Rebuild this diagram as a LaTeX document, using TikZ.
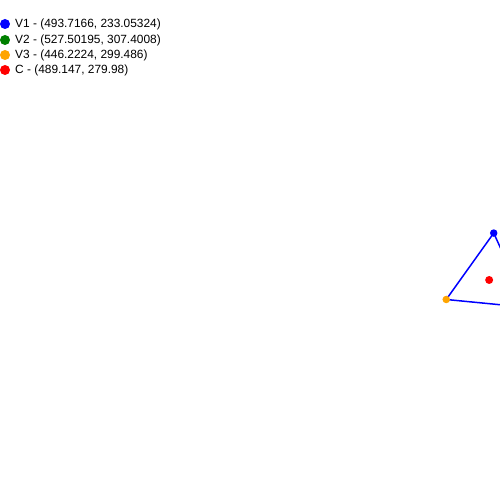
\documentclass[tikz,border=0pt]{standalone}
\usepackage{fontspec}
\setmainfont{Liberation Sans}
\definecolor{vone}{RGB}{0,0,255}
\definecolor{vtwo}{RGB}{0,128,0}
\definecolor{vthree}{RGB}{255,165,0}
\definecolor{cen}{RGB}{255,0,0}
\begin{document}
\begin{tikzpicture}[x=1pt,y=-1pt,
  legtext/.style={anchor=west,inner sep=0pt,font=\fontsize{11.9}{14}\selectfont},
  edge/.style={draw=vone,line width=1.5pt},
  legdot/.style={circle,inner sep=0pt,minimum size=10pt},
  vdot/.style={circle,inner sep=0pt,minimum size=7.5pt}]
\useasboundingbox (0,0) rectangle (500,500);
\clip (0,0) rectangle (500,500);
\fill[white] (0,0) rectangle (500,500);
% vertices
\coordinate (V1) at (493.7166,233.05324);
\coordinate (V2) at (527.50195,307.4008);
\coordinate (V3) at (446.2224,299.486);
\coordinate (C) at (489.147,279.98);
\draw[edge] (V1) -- (V2) -- (V3) -- cycle;
\node[vdot,fill=vone] (p1) at (V1) {};
\node[vdot,fill=vtwo] (p2) at (V2) {};
\node[vdot,fill=vthree] (p3) at (V3) {};
\node[vdot,fill=cen,minimum size=8pt] (pc) at (C) {};
% legend
\node[legdot,fill=vone] (l1) at (5,24) {};
\node[legtext] (t1) at (15,24.5) {V1 - (493.7166, 233.05324)};
\node[legdot,fill=vtwo] (l2) at (5,40) {};
\node[legtext] (t2) at (15,40.5) {V2 - (527.50195, 307.4008)};
\node[legdot,fill=vthree] (l3) at (5,55) {};
\node[legtext] (t3) at (15,55.5) {V3 - (446.2224, 299.486)};
\node[legdot,fill=cen] (l4) at (5,70) {};
\node[legtext] (t4) at (15,70.5) {C - (489.147, 279.98)};
\end{tikzpicture}
\end{document}
